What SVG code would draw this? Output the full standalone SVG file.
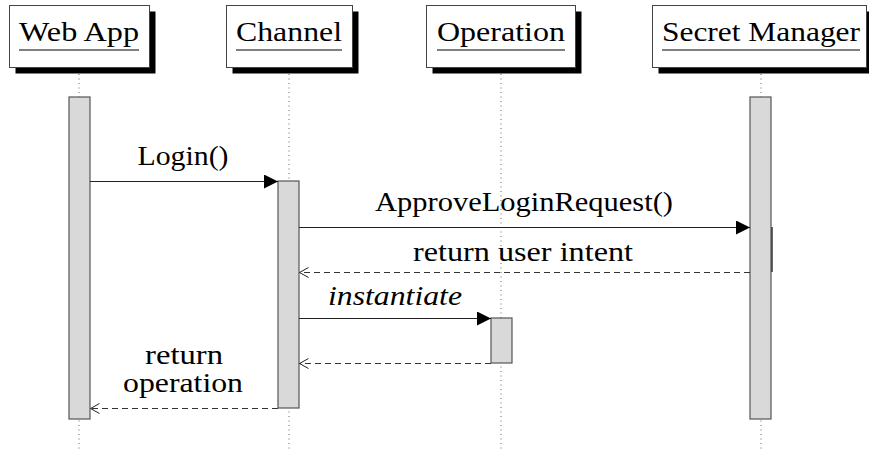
<svg xmlns="http://www.w3.org/2000/svg" width="869" height="452" viewBox="0 0 869 452">
<style>
.t{font-family:'Liberation Serif','Times New Roman',Times,serif;font-size:28px;fill:#000;text-anchor:middle}
.it{font-style:italic}
.box{fill:#fff;stroke:#444;stroke-width:1}
.sh{fill:#000}
.ul{stroke:#000;stroke-width:1.2}
.life{stroke:#666;stroke-width:1;stroke-dasharray:1 3.5}
.act{fill:#d9d9d9;stroke:#555;stroke-width:1.2}
.msg{stroke:#222;stroke-width:1.1;fill:none}
.ret{stroke:#333;stroke-width:1.1;fill:none;stroke-dasharray:6 4}
</style>
<defs>
<marker id="solid" markerUnits="userSpaceOnUse" markerWidth="14" markerHeight="14" refX="14" refY="7" orient="auto">
<path d="M0,0 L14,7 L0,14 z" fill="#000"/>
</marker>
<marker id="open" markerUnits="userSpaceOnUse" markerWidth="11" markerHeight="12" refX="10" refY="6" orient="auto">
<path d="M1,1 L10,6 L1,11" fill="none" stroke="#222" stroke-width="1"/>
</marker>
</defs>
<rect width="869" height="452" fill="#fff"/>

<g id="lifelines">
<line class="life" x1="79" y1="74" x2="79" y2="452"/>
<line class="life" x1="289" y1="74" x2="289" y2="452"/>
<line class="life" x1="501" y1="74" x2="501" y2="452"/>
<line class="life" x1="761" y1="74" x2="761" y2="452"/>
</g>

<g id="webapp">
<rect class="sh" x="15.5" y="11.5" width="140" height="62"/>
<rect class="box" x="9.5" y="5.5" width="140" height="62"/>
<text class="t" x="79" y="41" textLength="120" lengthAdjust="spacingAndGlyphs">Web App</text>
<line class="ul" x1="19" y1="50" x2="139" y2="50"/>
<rect class="act" x="69" y="97" width="21" height="322"/>
</g>

<g id="channel">
<rect class="sh" x="232.5" y="11.5" width="126" height="62"/>
<rect class="box" x="226.5" y="5.5" width="126" height="62"/>
<text class="t" x="289" y="41" textLength="106" lengthAdjust="spacingAndGlyphs">Channel</text>
<line class="ul" x1="236" y1="50" x2="342" y2="50"/>
<rect class="act" x="278" y="181" width="21" height="227"/>
</g>

<g id="operation">
<rect class="sh" x="432.5" y="11.5" width="149" height="62"/>
<rect class="box" x="426.5" y="5.5" width="149" height="62"/>
<text class="t" x="501" y="41" textLength="128" lengthAdjust="spacingAndGlyphs">Operation</text>
<line class="ul" x1="437" y1="50" x2="565" y2="50"/>
<rect class="act" x="491" y="318" width="21" height="45"/>
</g>

<g id="secretmanager">
<rect class="sh" x="658.5" y="11.5" width="216" height="62"/>
<rect class="box" x="652.5" y="5.5" width="214" height="62"/>
<text class="t" x="761" y="41" textLength="198" lengthAdjust="spacingAndGlyphs">Secret Manager</text>
<line class="ul" x1="662" y1="50" x2="860" y2="50"/>
<rect class="act" x="750" y="97" width="21" height="322"/>
<line x1="772" y1="227" x2="772" y2="272" stroke="#333" stroke-width="1.5"/>
</g>

<g id="connectors">
<line class="msg" x1="90" y1="181.5" x2="278" y2="181.5" marker-end="url(#solid)"/>
<line class="msg" x1="299" y1="227.5" x2="750" y2="227.5" marker-end="url(#solid)"/>
<line class="ret" x1="750" y1="272.5" x2="299.5" y2="272.5" marker-end="url(#open)"/>
<line class="msg" x1="299" y1="318.5" x2="491" y2="318.5" marker-end="url(#solid)"/>
<line class="ret" x1="491" y1="363.5" x2="299.5" y2="363.5" marker-end="url(#open)"/>
<line class="ret" x1="278" y1="408.5" x2="90.5" y2="408.5" marker-end="url(#open)"/>
</g>

<g id="labels">
<text class="t" x="183" y="165" textLength="91" lengthAdjust="spacingAndGlyphs">Login()</text>
<text class="t" x="524" y="211" textLength="298" lengthAdjust="spacingAndGlyphs">ApproveLoginRequest()</text>
<text class="t" x="523" y="261" textLength="220" lengthAdjust="spacingAndGlyphs">return user intent</text>
<text class="t it" x="395" y="305" textLength="134" lengthAdjust="spacingAndGlyphs">instantiate</text>
<text class="t" x="184" y="364" textLength="78" lengthAdjust="spacingAndGlyphs">return</text>
<text class="t" x="183" y="392" textLength="120" lengthAdjust="spacingAndGlyphs">operation</text>
</g>
</svg>
